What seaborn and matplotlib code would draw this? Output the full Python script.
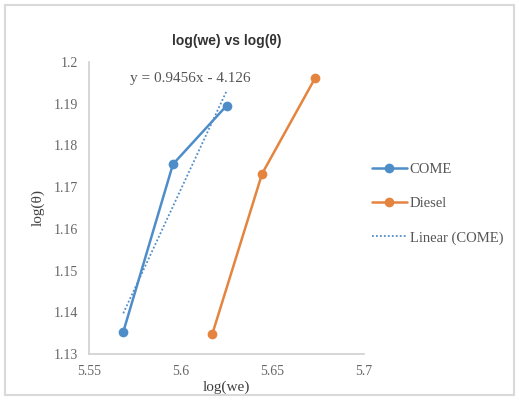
import matplotlib
matplotlib.use("Agg")
import matplotlib.pyplot as plt
import seaborn as sns
import numpy as np
import pandas as pd
from matplotlib.patches import Rectangle

come_x = [5.5687, 5.5958, 5.6250]
come_y = [1.1353, 1.1755, 1.1895]
diesel_x = [5.6172, 5.6444, 5.6734]
diesel_y = [1.1347, 1.1732, 1.1962]
trend_slope = 0.9456
trend_intercept = -4.126
x_ticks = [5.55, 5.6, 5.65, 5.7]
x_tick_labels = ["5.55", "5.6", "5.65", "5.7"]
y_ticks = [1.13, 1.14, 1.15, 1.16, 1.17, 1.18, 1.19, 1.2]
y_tick_labels = ["1.13", "1.14", "1.15", "1.16", "1.17", "1.18", "1.19", "1.2"]

sns.set_theme(style="white")
plt.rcParams['font.family'] = ['Liberation Serif', 'DejaVu Serif']

blue = "#4f8dc9"
orange = "#e5843e"

df = pd.DataFrame({
    "x": come_x + diesel_x,
    "y": come_y + diesel_y,
    "series": ["COME"] * 3 + ["Diesel"] * 3,
})

fig = plt.figure(figsize=(5.19, 4.0), dpi=100)
ax = fig.add_axes([89/519, 1 - 354/400, (364-89)/519, (354-62)/400])

sns.lineplot(data=df, x="x", y="y", hue="series", palette=[blue, orange],
             marker="o", markersize=7, markeredgewidth=0, linewidth=1.8,
             ax=ax, sort=False)

tx = np.array([min(come_x), max(come_x)])
ty = trend_slope * tx + trend_intercept
ax.plot(tx, ty, linestyle=(0, (1, 1.2)), color=blue, linewidth=1.3, label="Linear (COME)")

ax.set_xlim(5.55, 5.7)
ax.set_ylim(1.13, 1.2)
ax.set_xticks(x_ticks)
ax.set_xticklabels(x_tick_labels)
ax.set_yticks(y_ticks)
ax.set_yticklabels(y_tick_labels)
ax.tick_params(axis="both", labelsize=10, colors="#666666", length=0, pad=8)
for s in ["top", "right"]:
    ax.spines[s].set_visible(False)
for s in ["left", "bottom"]:
    ax.spines[s].set_color("#d0d0d0")
    ax.spines[s].set_linewidth(1.2)

ax.set_xlabel("log(we)", fontsize=11, color="#404040", labelpad=2)
ax.set_ylabel("log(θ)", fontsize=11, color="#404040", labelpad=6)
ax.set_title("log(we) vs log(θ)", fontsize=10, fontweight="bold", color="#333333",
             family=["Liberation Sans", "DejaVu Sans"], pad=12)

ax.text(0.367, 0.945, "y = 0.9456x - 4.126", transform=ax.transAxes, fontsize=11,
        color="#555555", ha="center", va="center")

handles, labels = ax.get_legend_handles_labels()
leg = ax.legend(handles, ["COME", "Diesel", "Linear (COME)"], loc="center left",
                bbox_to_anchor=(0.98, 0.515), frameon=False, fontsize=10.5,
                handlelength=2.4, labelspacing=1.45, handletextpad=0.2)
for t in leg.get_texts():
    t.set_color("#555555")

fig.patches.append(Rectangle((5/519, 5/400), 509/519, 390/400, transform=fig.transFigure,
                             fill=False, edgecolor="#d9d9d9", linewidth=1.5))

fig.savefig("out.png", dpi=100)
